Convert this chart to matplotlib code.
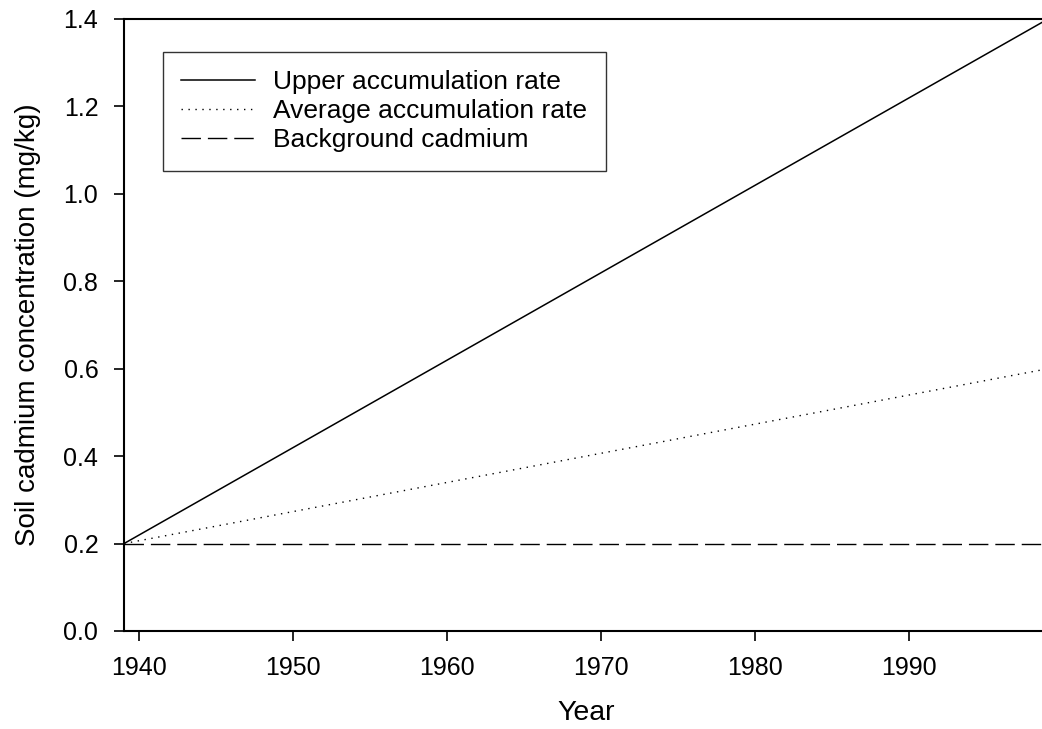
import numpy as np
import matplotlib.pyplot as plt

plt.rcParams['font.family'] = ['Liberation Sans', 'DejaVu Sans']

# end points of each series (linear accumulation, 1939 to 1999)
years = [1939, 1999]
upper = [0.2, 1.4]
average = [0.2, 0.6]
background = [0.2, 0.2]

x_ticks = [1940, 1950, 1960, 1970, 1980, 1990]
y_ticks = [0.0, 0.2, 0.4, 0.6, 0.8, 1.0, 1.2, 1.4]

W, H = 1042, 729
fig = plt.figure(figsize=(W / 100, H / 100), dpi=100)
ax = fig.add_axes([124 / W, (H - 631) / H, 924 / W, 612 / H])

ax.plot(years, upper, color='black', lw=1.1, label='Upper accumulation rate')
ax.plot(years, average, color='black', lw=1.0, dashes=(1, 4),
        label='Average accumulation rate')
ax.plot(years, background, color='black', lw=1.0, dashes=(14, 5),
        label='Background cadmium')

ax.set_xlim(1939, 1999)
ax.set_ylim(0, 1.4)
ax.set_xticks(x_ticks)
ax.set_yticks(y_ticks)
ax.set_yticklabels([f'{v:.1f}' for v in y_ticks])
ax.tick_params(direction='out', length=7, width=1.2, labelsize=18)
ax.tick_params(axis='x', pad=11)
ax.tick_params(axis='y', pad=11.5)
for s in ax.spines.values():
    s.set_linewidth(1.5)

ax.set_xlabel('Year', fontsize=20.5)
ax.set_ylabel('Soil cadmium concentration (mg/kg)', fontsize=20)
ax.xaxis.set_label_coords(586 / W, 1 - 700 / H, transform=fig.transFigure)
ax.yaxis.set_label_coords(41 / W, 1 - 325 / H, transform=fig.transFigure)

leg = ax.legend(loc='upper left', bbox_to_anchor=(163 / W, 1 - 52 / H),
                bbox_transform=fig.transFigure, fontsize=19, frameon=True,
                fancybox=False, shadow=False, handlelength=2.8,
                handletextpad=0.68, borderpad=0.7, labelspacing=0.19,
                borderaxespad=0)
leg.get_frame().set_edgecolor('black')
leg.get_frame().set_linewidth(1.0)

fig.savefig('out.png', dpi=100)
